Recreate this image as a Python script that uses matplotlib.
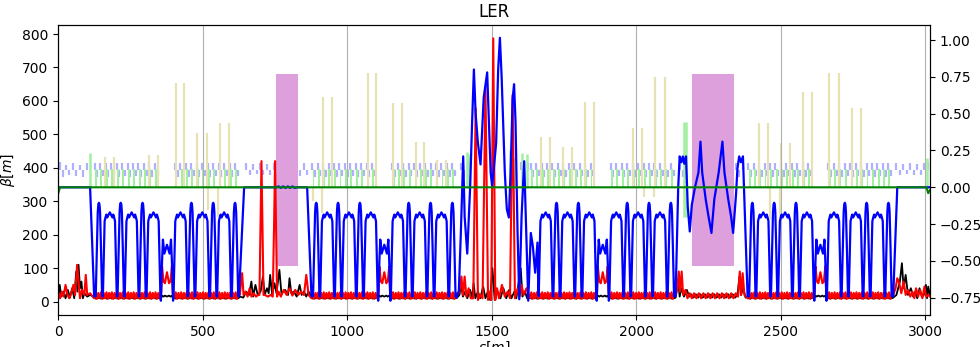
import numpy as np
import matplotlib
matplotlib.use('Agg')
import matplotlib.pyplot as plt

# ---------------- data ----------------
ring_length = 3016.3

# arc cells: positions of the tall dispersion peaks, the 3-hump plateaus
# and the "reduced" cell in the middle of each arc
dx_peaks = [140.5, 216, 291.5, 460.5, 536, 611.5,
            892.5, 968, 1043.5, 1212.5, 1288, 1363.5,
            1724, 1799.5, 1968.5, 2044, 2119.5,
            2401.5, 2477, 2552.5, 2721.5, 2797, 2872.5]
dx_plateaus = [178.25, 253.75, 329.25, 422.75, 498.25, 573.75,
               930.25, 1005.75, 1081.25, 1174.75, 1250.25, 1325.75,
               1686.25, 1761.75, 1837.25, 1930.75, 2006.25, 2081.75,
               2439.25, 2514.75, 2590.25, 2683.75, 2759.25, 2834.75]
arc_centres = [376, 1128, 1884, 2637]

peak_ds = [-11, -7, -4, -2, 0, 2, 4, 7, 11]
peak_dx = [-0.74, -0.40, -0.17, -0.115, -0.105, -0.115, -0.17, -0.40, -0.74]
plat_ds = [-24, -20, -18, -15, -12, -9, -5, 0, 5, 9, 12, 15, 18, 20, 24]
plat_dx = [-0.74, -0.40, -0.23, -0.205, -0.185, -0.205, -0.19, -0.17,
           -0.19, -0.205, -0.185, -0.205, -0.23, -0.40, -0.74]
red_ds = [-21, -17, -14, -9, 0, 9, 14, 17, 21]
red_dx = [-0.77, -0.50, -0.355, -0.45, -0.39, -0.45, -0.355, -0.50, -0.77]

# straight sections / IR / wigglers (s, Dx)
dx_straight_s = [0, 110, 124,
                 625, 643, 754, 762, 770, 778, 786, 794, 802, 810, 818, 826, 861, 876,
                 1378, 1386, 1393, 1401, 1406, 1415, 1425, 1432, 1438, 1444, 1452,
                 1461, 1472, 1484, 1490, 1496, 1501, 1508, 1515, 1522, 1528, 1534,
                 1545, 1552, 1559, 1565, 1572, 1577, 1582, 1589, 1595, 1603, 1612,
                 1619, 1626, 1635, 1642, 1650, 1658, 1661,
                 2136, 2145, 2150, 2156, 2161, 2166, 2172, 2178, 2185, 2192, 2203,
                 2215, 2222, 2228, 2240, 2250, 2260, 2270, 2285, 2298, 2305, 2318,
                 2328, 2335, 2345, 2350, 2356, 2362, 2369, 2385,
                 2889, 2903, 3016]
dx_straight_v = [0.0, 0.0, -0.74,
                 -0.74, 0.0, 0.0, 0.006, -0.004, 0.006, -0.004, 0.006, -0.004, 0.006,
                 -0.004, 0.0, 0.0, -0.74,
                 -0.75, -0.70, -0.30, 0.21, -0.20, -0.45, 0.0, 0.45, 0.80, 0.50, 0.30,
                 0.155, 0.61, 0.78, 0.45, 0.10, 0.01, 0.15, 0.30, 0.80, 1.015, 0.75,
                 0.10, -0.15, -0.205, 0.10, 0.60, 0.70, 0.45, -0.30, -0.76, -0.20, 0.177,
                 -0.30, -0.77, -0.31, -0.40, -0.58, -0.375, -0.69,
                 -0.74, 0.0, 0.21, 0.17, 0.21, 0.16, 0.21, -0.13, -0.30, -0.12, 0.0,
                 0.10, 0.31, 0.10, -0.08, -0.20, -0.31, -0.08, 0.10, 0.31, 0.10, -0.08,
                 -0.20, -0.31, -0.05, 0.13, 0.21, 0.17, 0.21, -0.74,
                 -0.74, 0.0, 0.0]

# vertical dispersion (flat, small dips at the ring ends)
dy_s = [0, 6, 3004, 3010, 3016]
dy_v = [-0.04, 0.0, 0.0, -0.04, -0.02]

# beta functions: one arc cell (75.5 m) and the reduced cell
cell_starts = [124, 199.5, 275, 401.5, 477, 552.5,
               876, 951.5, 1027, 1153.5, 1229, 1304.5,
               1632, 1707.5, 1783, 1909.5, 1985, 2060.5,
               2385, 2460.5, 2536, 2662.5, 2738, 2813.5]
cell_ds = [0, 4.7, 9.4, 14.2, 18.9, 23.6, 28.3, 33.0, 37.8, 42.5, 47.2, 51.9,
           56.6, 61.3, 66.1, 70.8]
cell_bx = [14, 9, 17, 10, 14, 9, 17, 10, 14, 9, 17, 10, 14, 9, 17, 10]
cell_by = [10, 28, 8, 26, 10, 28, 8, 26, 10, 28, 8, 26, 10, 28, 8, 26]
redc_ds = [-25.5, -20, -17, -12, -7, 0, 7, 12, 17, 20]
redc_bx = [14, 12, 18, 15, 18, 15, 18, 15, 18, 12]
redc_by = [10, 25, 105, 60, 55, 88, 55, 60, 105, 25]

bx_straight_s = [0, 5, 10, 18, 25, 33, 40, 48, 55, 62, 66, 70, 75, 80, 85, 90, 100, 110,
                 628, 640, 650, 660, 668, 674, 682, 690, 700, 708, 714, 722, 728, 733,
                 740, 748, 755, 765, 772, 785, 795, 800, 806, 815, 825, 835, 842, 850,
                 858, 866,
                 1380, 1388, 1394, 1400, 1408, 1415, 1425, 1432, 1437, 1443, 1452, 1460,
                 1470, 1478, 1486, 1494, 1502, 1510, 1520, 1530, 1540, 1550, 1560, 1568,
                 1578, 1585, 1600, 1606, 1615, 1622,
                 2136, 2145, 2150, 2156, 2165, 2175, 2183, 2190, 2198, 2206, 2214, 2222,
                 2230, 2238, 2246, 2254, 2262, 2270, 2278, 2286, 2294, 2302, 2310, 2318,
                 2326, 2334, 2342, 2350, 2357, 2362, 2370, 2378,
                 2889, 2900, 2912, 2919, 2925, 2932, 2940, 2950, 2958, 2965, 2972, 2980,
                 2988, 2995, 3002, 3006, 3010, 3016]
bx_straight_v = [15, 50, 15, 30, 10, 35, 12, 40, 10, 90, 30, 110, 40, 60, 10, 25, 15, 20,
                 15, 12, 30, 20, 60, 15, 50, 20, 30, 75, 20, 40, 25, 80,
                 20, 55, 25, 95, 25, 35, 20, 70, 25, 30, 15, 50, 20, 30,
                 15, 30,
                 12, 20, 50, 15, 30, 10, 35, 10, 55, 10, 30, 10,
                 45, 10, 30, 5, 100, 5, 30, 10, 40, 10, 35, 10,
                 30, 10, 100, 15, 30, 10,
                 12, 60, 15, 40, 15, 35, 15, 22, 12, 22, 12, 22,
                 12, 22, 12, 22, 12, 22, 12, 22, 12, 22, 12, 22,
                 12, 22, 12, 20, 75, 20, 40, 12,
                 12, 20, 60, 115, 40, 80, 20, 40, 15, 30, 10, 40,
                 15, 20, 50, 10, 45, 20]
by_straight_s = [0, 6, 12, 18, 25, 32, 38, 45, 52, 58, 65, 70, 75, 82, 90, 95, 100, 110,
                 628, 636, 641, 648, 655, 662, 668, 676, 684, 692, 696, 700, 703, 706,
                 710, 715, 725, 735, 742, 747, 750, 753, 757, 762, 770, 780, 790, 800,
                 810, 820, 830, 840, 850, 858, 866,
                 1380, 1388, 1395, 1400, 1406, 1412, 1420, 1427, 1436, 1444, 1452, 1460,
                 1468, 1478, 1487, 1493, 1498, 1505, 1512, 1518, 1525, 1535, 1545, 1555,
                 1563, 1572, 1580, 1590, 1596, 1603, 1610, 1620,
                 2136, 2142, 2147, 2151, 2157, 2162, 2170, 2177, 2185, 2192, 2200, 2208,
                 2216, 2224, 2232, 2240, 2248, 2256, 2264, 2272, 2280, 2288, 2296, 2304,
                 2312, 2320, 2328, 2336, 2344, 2352, 2358, 2363, 2368, 2374,
                 2889, 2897, 2903, 2910, 2917, 2925, 2932, 2940, 2948, 2955, 2962, 2968,
                 2975, 2982, 2990, 2997, 3003, 3010, 3016]
by_straight_v = [25, 10, 30, 15, 50, 20, 10, 25, 50, 20, 110, 60, 10, 35, 20, 80, 20, 25,
                 20, 85, 20, 30, 15, 40, 15, 25, 15, 20, 20, 250, 420, 250,
                 20, 20, 15, 20, 15, 250, 420, 250, 15, 30, 15, 35, 20, 40,
                 18, 35, 20, 30, 20, 80, 20,
                 20, 30, 75, 20, 75, 15, 40, 10, 10, 578, 5, 20,
                 10, 641, 5, 30, 5, 787, 5, 40, 10, 50, 15, 30,
                 10, 618, 10, 40, 15, 50, 20, 40,
                 20, 40, 90, 30, 90, 20, 35, 10, 25, 10, 25, 10,
                 25, 10, 25, 10, 25, 10, 25, 10, 25, 10, 25, 10,
                 25, 10, 25, 10, 25, 15, 90, 20, 85, 20,
                 20, 40, 70, 55, 25, 60, 20, 35, 15, 30, 10, 40,
                 15, 35, 10, 45, 15, 20, 15]

# lattice elements (drawn in beta-axis units around the D=0 line)
elem_base = 340
quad_level = 393
cell_quad_ds = [2, 11.5, 21, 30.5, 40, 49.5, 59, 68.5]
cell_quad_h = [20, -20, 22, -18, 20, -20, 22, -18]
cell_bend_ds = [7, 25, 44, 62]
cell_bend_h = [55, 55, 55, 55]
straight_quad_s = [5, 16, 27, 38, 50, 62, 74, 86, 98,
                   650, 662, 674, 686, 698, 710, 722, 734, 746, 838, 850, 862,
                   1392, 1404, 1416, 1600, 1612, 1624,
                   2150, 2160, 2170, 2345, 2357, 2369,
                   2900, 2912, 2924, 2936, 2948, 2960, 2972, 2984, 2996, 3008]
straight_quad_h = [25, -20, 15, -15, 20, -18, 15, -20, 22,
                   20, -15, 18, -12, 20, -15, 18, -15, 20, -18, 20, -15,
                   20, -20, 25, 25, -20, 20,
                   20, -20, 20, 20, -20, 20,
                   20, -15, 18, -12, 20, -15, 18, -15, 20, 25]
# strong single bends near the straight sections (s, bottom, top)
big_bend_s = [110, 1413, 1421, 1562, 1580, 1603, 1623, 2166, 2172, 3005]
big_bend_lo = [340, 340, 340, 340, 340, 340, 340, 254, 254, 340]
big_bend_hi = [443, 448, 440, 452, 430, 445, 440, 538, 538, 428]
# sextupoles: start of the line at the D=0 line, end at sext_end
sext_s = [161, 194, 315, 346, 407, 436, 481, 515, 519, 553, 559, 591,
          880, 913, 917, 948, 1070, 1098, 1159, 1190, 1236, 1266, 1311, 1340,
          1669, 1701, 1745, 1776, 1822, 1853, 1989, 2021, 2027, 2060, 2066, 2099,
          2425, 2456, 2462, 2496, 2502, 2531, 2577, 2608, 2667, 2700, 2745, 2776]
sext_end = [433, 433, 438, 438, 653, 653, 503, 503, 274, 254, 533, 533,
            300, 265, 611, 611, 683, 683, 593, 593, 478, 478, 423, 423,
            493, 493, 463, 463, 598, 598, 518, 518, 314, 314, 672, 672,
            533, 533, 244, 250, 473, 473, 628, 628, 683, 683, 578, 578]
wig_start = [754, 2194]
wig_end = [830, 2337]
wig_lo = [106, 106]
wig_hi = [680, 680]


# ---------------- build the curves ----------------
def place(positions, ds, vals):
    s, v = [], []
    for p in positions:
        s += [p + d for d in ds]
        v += list(vals)
    return s, v


def assemble(parts):
    s = np.concatenate([np.asarray(p[0], float) for p in parts])
    v = np.concatenate([np.asarray(p[1], float) for p in parts])
    order = np.argsort(s, kind='stable')
    return s[order], v[order]


sD, Dx = assemble([place(dx_peaks, peak_ds, peak_dx),
                   place(dx_plateaus, plat_ds, plat_dx),
                   place(arc_centres, red_ds, red_dx),
                   (dx_straight_s, dx_straight_v)])
sBx, Bx = assemble([place(cell_starts, cell_ds, cell_bx),
                    place(arc_centres, redc_ds, redc_bx),
                    (bx_straight_s, bx_straight_v)])
sBy, By = assemble([place(cell_starts, cell_ds, cell_by),
                    place(arc_centres, redc_ds, redc_by),
                    (by_straight_s, by_straight_v)])
qs, qh = place(cell_starts, cell_quad_ds, cell_quad_h)
qs += straight_quad_s
qh += straight_quad_h
bs, bh = place(cell_starts, cell_bend_ds, cell_bend_h)

# ---------------- plot ----------------
fig = plt.figure(figsize=(9.8, 3.47), dpi=100)
ax = fig.add_axes([0.0595, 0.0922, 0.8895, 0.8358])

ax.vlines(qs, quad_level, quad_level + np.array(qh), color='#b0b0ff', lw=1.6, zorder=1)
ax.bar(bs, bh, width=6.5, bottom=elem_base, color='#a0f0a0', zorder=1)
ax.vlines(big_bend_s, big_bend_lo, big_bend_hi, color='#a0f0a0', lw=1.8, zorder=1)
ax.vlines(sext_s, elem_base, sext_end, color='#e6e2b4', lw=1.6, zorder=1)
ax.bar(wig_start, np.array(wig_hi) - np.array(wig_lo), width=np.array(wig_end) - np.array(wig_start),
       bottom=wig_lo, align='edge', color='plum', zorder=1)

ax.plot(sBx, Bx, color='black', lw=1.3, zorder=2)
ax.plot(sBy, By, color='red', lw=1.5, zorder=3)

ax.set_xlim(0, ring_length)
ax.set_ylim(-40, 827)
ax.grid(axis='x', color='#b0b0b0', lw=0.8)
ax.set_title('LER')
ax.set_xlabel('$s[m]$', labelpad=1)
ax.set_ylabel(r'$\beta[m]$')

ax2 = ax.twinx()
ax2.plot(sD, Dx, color='blue', lw=1.6)
ax2.plot(dy_s, dy_v, color='green', lw=1.5)
ax2.set_ylim(-0.867, 1.102)
ax2.set_ylabel('$D[m]$', labelpad=2)

fig.savefig('out.png', dpi=100)
